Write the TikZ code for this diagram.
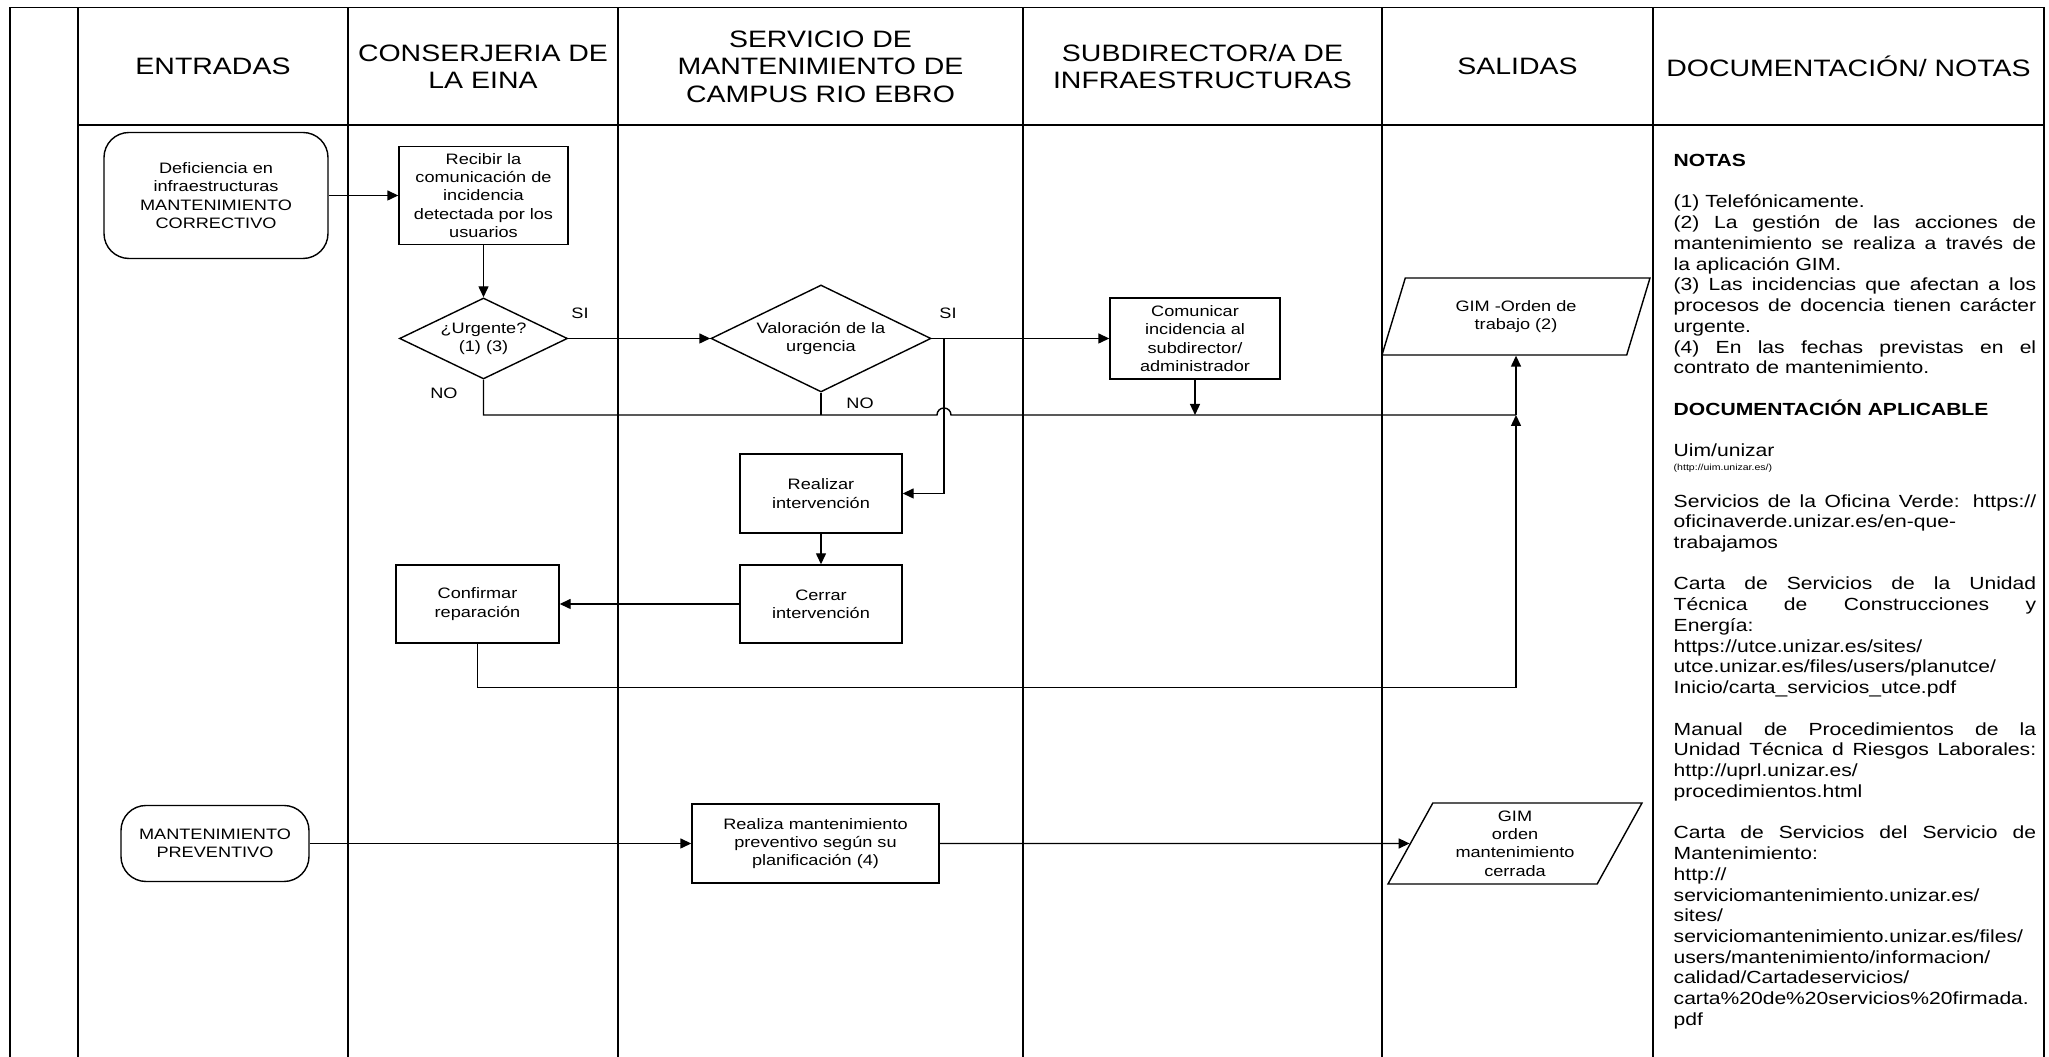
\documentclass[tikz,border=0pt]{standalone}
\usepackage{fontspec}
\setmainfont{Liberation Sans}[FakeStretch=1.2]
\usepackage{tikz}
\usetikzlibrary{arrows.meta, positioning, shapes.geometric}
\hyphenpenalty=10000

\begin{document}
\begin{tikzpicture}[scale=1.0, line width=0.8pt, >={Triangle[length=0.22cm, width=0.2cm]},
    frame/.style={line width=1.1pt},
    hdr/.style={align=center, font=\fontsize{13.5}{15.6}\selectfont},
    box/.style={draw, rectangle, align=center, inner sep=2pt, font=\fontsize{8.6}{10.4}\selectfont},
    term/.style={box, rounded corners=0.5cm},
    decision/.style={draw, diamond, aspect=2, align=center, inner sep=0pt, font=\fontsize{8.6}{10.4}\selectfont},
    io/.style={draw, trapezium, trapezium left angle=57, trapezium right angle=123, trapezium stretches body, align=center, inner sep=1pt, font=\fontsize{8.6}{10.4}\selectfont},
    lbl/.style={font=\fontsize{8.6}{10.4}\selectfont},
    notes/.style={text width=7.25cm, align=justify, inner sep=0pt, font=\fontsize{10}{11.8}\selectfont}]
    \useasboundingbox (0,0) rectangle (40.98,21.14);

    % Swimlane frame
    \draw[frame] (0.2,20.99) -- (40.88,20.99);
    \draw[frame] (1.56,18.64) -- (40.88,18.64);
    \foreach \x in {0.2,1.56,6.96,12.36,20.46,27.64,33.06,40.88}
        \draw[frame] (\x,20.99) -- (\x,0);

    % Lane headers
    \node[hdr] (hentradas) at (4.26,19.81) {ENTRADAS};
    \node[hdr] (hconserje) at (9.66,19.81) {CONSERJERIA DE\\LA EINA};
    \node[hdr] (hservicio) at (16.41,19.81) {SERVICIO DE\\MANTENIMIENTO DE\\CAMPUS RIO EBRO};
    \node[hdr] (hsubdir) at (24.05,19.81) {SUBDIRECTOR/A DE\\INFRAESTRUCTURAS};
    \node[hdr] (hsalidas) at (30.35,19.81) {SALIDAS};
    \node[hdr] (hdocu) at (36.97,19.81) {DOCUMENTACIÓN/ NOTAS};

    % Flowchart boxes
    \node[term, minimum width=4.48cm, minimum height=2.52cm] (defic) at (4.32,17.23) {Deficiencia en\\infraestructuras\\MANTENIMIENTO\\CORRECTIVO};
    \node[box, minimum width=3.38cm, minimum height=1.96cm] (recibir) at (9.67,17.23) {Recibir la\\comunicación de\\incidencia\\detectada por los\\usuarios};
    \node[decision, minimum width=3.36cm, minimum height=1.62cm] (urgente) at (9.67,14.37) {¿Urgente?\\(1) (3)};
    \node[decision, minimum width=4.4cm, minimum height=2.14cm] (valora) at (16.42,14.37) {Valoración de la\\urgencia};
    \node[box, minimum width=3.4cm, minimum height=1.62cm] (comunica) at (23.9,14.37) {Comunicar\\incidencia al\\subdirector/\\administrador};
    \node[io, minimum width=5.36cm, minimum height=1.54cm] (orden) at (30.32,14.81) {GIM -Orden de\\trabajo (2)};
    \node[box, minimum width=3.24cm, minimum height=1.58cm] (realizar) at (16.42,11.27) {Realizar\\intervención};
    \node[box, minimum width=3.24cm, minimum height=1.56cm] (cerrar) at (16.42,9.06) {Cerrar\\intervención};
    \node[box, minimum width=3.26cm, minimum height=1.56cm] (confirmar) at (9.55,9.06) {Confirmar\\reparación};
    \node[term, minimum width=3.76cm, minimum height=1.52cm] (prevent) at (4.3,4.27) {MANTENIMIENTO\\PREVENTIVO};
    \node[box, minimum width=4.94cm, minimum height=1.58cm] (mantprev) at (16.31,4.27) {Realiza mantenimiento\\preventivo según su\\planificación (4)};
    \node[io, minimum width=5.08cm, minimum height=1.62cm] (cerrada) at (30.3,4.27) {GIM\\orden\\mantenimiento\\cerrada};

    % Branch labels
    \node[lbl] (si1) at (11.6,14.88) {SI};
    \node[lbl] (no1) at (8.88,13.28) {NO};
    \node[lbl] (si2) at (18.96,14.88) {SI};
    \node[lbl] (no2) at (17.2,13.08) {NO};

    % Connector points
    \coordinate (nojoin) at (30.32,12.84);
    \coordinate (hop) at (18.74,12.84);
    \coordinate (sibr) at (18.88,14.37);

    % Arrows
    \draw[->] (defic) -- (recibir);
    \draw[->] (recibir) -- (urgente);
    \draw[->] (urgente) -- (valora);
    \draw[->] (valora) -- (comunica);
    \draw[->] (sibr) |- (realizar.east);
    \draw (urgente.south) |- (hop) arc[start angle=180, end angle=0, radius=0.14] -- (nojoin);
    \draw (valora.south) -- (valora.south |- nojoin);
    \draw[->] (comunica.south) -- (comunica.south |- nojoin);
    \draw[->] (nojoin) -- (nojoin |- orden.south);
    \draw[->] (realizar) -- (cerrar);
    \draw[->] (cerrar) -- (confirmar);
    \draw[->] (confirmar.south) -- ++(0,-0.88) -| (nojoin);
    \draw[->] (prevent) -- (mantprev);
    \draw[->] (mantprev) -- (cerrada);

    % Notes column
    \node[notes, anchor=north west] (notas) at (33.46,18.07) {%
        \textbf{NOTAS}\\[11.8pt]
        (1) Telefónicamente.\\
        (2) La gestión de las acciones de\linebreak
        mantenimiento se realiza a través de\linebreak
        la aplicación GIM.\\
        ~(3) Las incidencias que afectan a los\linebreak
        procesos de docencia tienen carácter\linebreak
        urgente.\\
        (4) En las fechas previstas en el\linebreak
        contrato de mantenimiento.\\[11.8pt]
        \textbf{DOCUMENTACIÓN APLICABLE}\\[11.8pt]
        Uim/unizar\\[-4pt]
        {\fontsize{5}{6}\selectfont (http://uim.unizar.es/)}\\[9pt]
        Servicios de la Oficina Verde: https://\linebreak
        oficinaverde.unizar.es/en-que-\\
        trabajamos\\[11.8pt]
        Carta de Servicios de la Unidad\linebreak
        Técnica de Construcciones y\linebreak
        Energía:\\
        https://utce.unizar.es/sites/\\
        utce.unizar.es/files/users/planutce/\\
        Inicio/carta\_servicios\_utce.pdf\\[11.8pt]
        Manual de Procedimientos de la\linebreak
        Unidad Técnica d Riesgos Laborales:\linebreak
        http://uprl.unizar.es/\\
        procedimientos.html\\[11.8pt]
        Carta de Servicios del Servicio de\linebreak
        Mantenimiento:\\
        http://\\
        serviciomantenimiento.unizar.es/\\
        sites/\\
        serviciomantenimiento.unizar.es/files/\\
        users/mantenimiento/informacion/\\
        calidad/Cartadeservicios/\\
        carta\%20de\%20servicios\%20firmada.\\
        pdf};
\end{tikzpicture}
\end{document}
